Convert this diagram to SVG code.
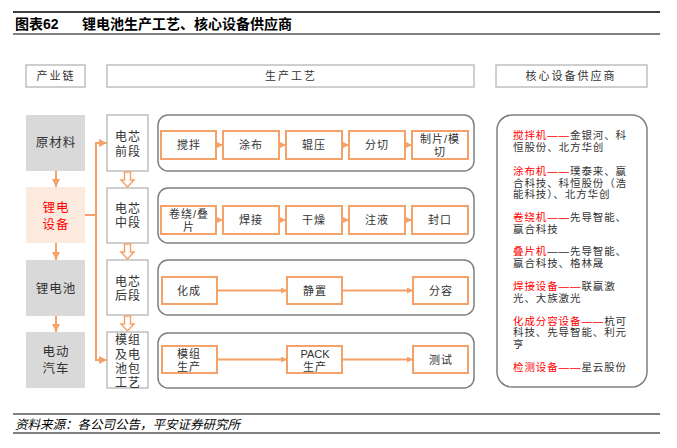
<svg xmlns="http://www.w3.org/2000/svg" width="677" height="448" viewBox="0 0 677 448">
<defs>
<marker id="ah" markerUnits="userSpaceOnUse" markerWidth="6" markerHeight="6" refX="6" refY="3" orient="auto">
<path d="M0,0 L6,3 L0,6 Z" fill="#f5a26a"/>
</marker>
<marker id="ahb" markerUnits="userSpaceOnUse" markerWidth="8" markerHeight="8" refX="8" refY="4" orient="auto">
<path d="M0,0 L8,4 L0,8 Z" fill="#f5a26a"/>
</marker>
</defs>
<style>
text{font-family:"Liberation Sans","Noto Sans CJK SC",sans-serif;fill:#333;}
.hdr{fill:#fff;stroke:#bfbfbf;stroke-width:1.5;}
.gray{fill:#d9d9d9;}
.stage{fill:#fff;stroke:#bfbfbf;stroke-width:1.5;}
.grp{fill:#fff;stroke:#808080;stroke-width:1.5;}
.proc{fill:#fff;stroke:#f5a26a;stroke-width:2;}
.c{text-anchor:middle;}
.ht{font-size:11px;letter-spacing:2px;}
.lt{font-size:12.5px;letter-spacing:1px;}
.st{font-size:12px;letter-spacing:1px;}
.pt{font-size:11px;letter-spacing:1px;}
.rt{font-size:10.5px;letter-spacing:0.9px;}
.red{fill:#ff0000;}
.con{stroke:#f5a26a;stroke-width:2;fill:none;}
.hol{stroke:#f5a26a;stroke-width:1.5;fill:#fff;}
</style>
<rect width="677" height="448" fill="#fff"/>
<line x1="13" y1="12" x2="660" y2="12" stroke="#000" stroke-width="1.5"/>
<text x="15" y="29" style="font-size:14px;font-weight:bold;fill:#000;">图表62</text>
<text x="82" y="29" style="font-size:14px;font-weight:bold;fill:#000;">锂电池生产工艺、核心设备供应商</text>
<line x1="13" y1="34" x2="660" y2="34" stroke="#000" stroke-width="1"/>

<g id="hdr-chain"><rect class="hdr" x="26" y="65" width="59" height="22"/><text class="ht c" x="56" y="80">产业链</text></g>
<g id="hdr-process"><rect class="hdr" x="107" y="65" width="367" height="22"/><text class="ht c" x="291" y="80">生产工艺</text></g>
<g id="hdr-supplier"><rect class="hdr" x="496" y="65" width="151" height="22"/><text class="ht c" x="571" y="80">核心设备供应商</text></g>

<g id="n-raw"><rect class="gray" x="26" y="115" width="59" height="56"/><text class="lt c" x="56" y="147">原材料</text></g>
<g id="n-equip"><rect fill="#fdeadf" x="26" y="187" width="59" height="56"/><text class="lt c red" x="56" y="212">锂电</text><text class="lt c red" x="56" y="229">设备</text></g>
<g id="n-battery"><rect class="gray" x="26" y="260" width="59" height="56"/><text class="lt c" x="56" y="293">锂电池</text></g>
<g id="n-ev"><rect class="gray" x="26" y="332" width="59" height="56"/><text class="lt c" x="56" y="356">电动</text><text class="lt c" x="56" y="373">汽车</text></g>

<g id="s-front"><rect class="stage" x="107" y="115" width="41" height="56"/><text class="st c" x="128" y="141">电芯</text><text class="st c" x="128" y="156">前段</text></g>
<g id="s-mid"><rect class="stage" x="107" y="188" width="41" height="55"/><text class="st c" x="128" y="213">电芯</text><text class="st c" x="128" y="227">中段</text></g>
<g id="s-back"><rect class="stage" x="107" y="260" width="41" height="55"/><text class="st c" x="128" y="286">电芯</text><text class="st c" x="128" y="300">后段</text></g>
<g id="s-pack"><rect class="stage" x="107" y="332" width="41" height="56"/><text class="st c" x="128" y="344">模组</text><text class="st c" x="128" y="358.5">及电</text><text class="st c" x="128" y="373">池包</text><text class="st c" x="128" y="387">工艺</text></g>

<g id="g-row1"><rect class="grp" x="158" y="115" width="316" height="56" rx="10"/></g>
<g id="g-row2"><rect class="grp" x="158" y="188" width="316" height="55" rx="10"/></g>
<g id="g-row3"><rect class="grp" x="158" y="260" width="316" height="55" rx="10"/></g>
<g id="g-row4"><rect class="grp" x="158" y="333" width="316" height="55" rx="10"/></g>

<g id="p-mix"><rect class="proc" x="161" y="131" width="55" height="28"/><text class="pt c" x="189" y="149">搅拌</text></g>
<g id="p-coat"><rect class="proc" x="223" y="131" width="56" height="28"/><text class="pt c" x="251" y="149">涂布</text></g>
<g id="p-roll"><rect class="proc" x="286" y="131" width="56" height="28"/><text class="pt c" x="314" y="149">辊压</text></g>
<g id="p-slit"><rect class="proc" x="349" y="131" width="56" height="28"/><text class="pt c" x="377" y="149">分切</text></g>
<g id="p-cut"><rect class="proc" x="412" y="131" width="56" height="28"/><text class="pt c" x="440" y="143">制片/模</text><text class="pt c" x="440" y="156">切</text></g>

<g id="p-wind"><rect class="proc" x="161" y="206" width="55" height="28"/><text class="pt c" x="189" y="218">卷绕/叠</text><text class="pt c" x="189" y="231">片</text></g>
<g id="p-weld"><rect class="proc" x="223" y="206" width="56" height="28"/><text class="pt c" x="251" y="224">焊接</text></g>
<g id="p-dry"><rect class="proc" x="286" y="206" width="56" height="28"/><text class="pt c" x="314" y="224">干燥</text></g>
<g id="p-fill"><rect class="proc" x="349" y="206" width="56" height="28"/><text class="pt c" x="377" y="224">注液</text></g>
<g id="p-seal"><rect class="proc" x="412" y="206" width="56" height="28"/><text class="pt c" x="440" y="224">封口</text></g>

<g id="p-form"><rect class="proc" x="162" y="277" width="55" height="27"/><text class="pt c" x="189" y="295">化成</text></g>
<g id="p-rest"><rect class="proc" x="287" y="277" width="55" height="27"/><text class="pt c" x="315" y="295">静置</text></g>
<g id="p-grade"><rect class="proc" x="413" y="277" width="55" height="27"/><text class="pt c" x="441" y="295">分容</text></g>

<g id="p-module"><rect class="proc" x="162" y="346" width="55" height="27"/><text class="pt c" x="189" y="358">模组</text><text class="pt c" x="189" y="371">生产</text></g>
<g id="p-packp"><rect class="proc" x="287" y="346" width="55" height="27"/><text class="c" x="315" y="358" style="font-size:11px;">PACK</text><text class="pt c" x="315" y="371">生产</text></g>
<g id="p-test"><rect class="proc" x="413" y="346" width="55" height="27"/><text class="pt c" x="441" y="364">测试</text></g>

<g id="supplier-panel">
<rect class="grp" x="497" y="115" width="150" height="272" rx="15"/>
<text class="rt" x="513" y="139"><tspan class="red">搅拌机——</tspan>金银河、科</text>
<text class="rt" x="513" y="150.5">恒股份、北方华创</text>
<text class="rt" x="513" y="175"><tspan class="red">涂布机——</tspan>璞泰来、赢</text>
<text class="rt" x="513" y="186.5">合科技、科恒股份（浩</text>
<text class="rt" x="513" y="198">能科技）、北方华创</text>
<text class="rt" x="513" y="221"><tspan class="red">卷绕机——</tspan>先导智能、</text>
<text class="rt" x="513" y="232.5">赢合科技</text>
<text class="rt" x="513" y="255"><tspan class="red">叠片机</tspan>——先导智能、</text>
<text class="rt" x="513" y="266.5">赢合科技、格林晟</text>
<text class="rt" x="513" y="290"><tspan class="red">焊接设备——</tspan>联赢激</text>
<text class="rt" x="513" y="301.5">光、大族激光</text>
<text class="rt" x="513" y="324.5"><tspan class="red">化成分容设备——</tspan>杭可</text>
<text class="rt" x="513" y="336">科技、先导智能、利元</text>
<text class="rt" x="513" y="347.5">亨</text>
<text class="rt" x="513" y="371"><tspan class="red">检测设备——</tspan>星云股份</text>
</g>

<g id="connectors">
<line class="con" x1="56" y1="171" x2="56" y2="187" marker-end="url(#ahb)"/>
<line class="con" x1="56" y1="243" x2="56" y2="260" marker-end="url(#ahb)"/>
<line class="con" x1="56" y1="316" x2="56" y2="332" marker-end="url(#ahb)"/>
<polyline class="con" points="85,215 96,215"/>
<line class="con" x1="96" y1="143" x2="96" y2="360"/>
<line class="con" x1="95" y1="143" x2="107" y2="143" marker-end="url(#ahb)"/>
<line class="con" x1="95" y1="360" x2="107" y2="360" marker-end="url(#ahb)"/>
<path class="hol" d="M124.5,172 L130.5,172 L130.5,180 L134,180 L127.5,187 L121,180 L124.5,180 Z"/>
<path class="hol" d="M124.5,244 L130.5,244 L130.5,252 L134,252 L127.5,259 L121,252 L124.5,252 Z"/>
<path class="hol" d="M124.5,316 L130.5,316 L130.5,324 L134,324 L127.5,331 L121,324 L124.5,324 Z"/>
<line class="con" x1="216" y1="145" x2="223" y2="145" marker-end="url(#ah)"/>
<line class="con" x1="279" y1="145" x2="286" y2="145" marker-end="url(#ah)"/>
<line class="con" x1="342" y1="145" x2="349" y2="145" marker-end="url(#ah)"/>
<line class="con" x1="405" y1="145" x2="412" y2="145" marker-end="url(#ah)"/>
<line class="con" x1="216" y1="220" x2="223" y2="220" marker-end="url(#ah)"/>
<line class="con" x1="279" y1="220" x2="286" y2="220" marker-end="url(#ah)"/>
<line class="con" x1="342" y1="220" x2="349" y2="220" marker-end="url(#ah)"/>
<line class="con" x1="405" y1="220" x2="412" y2="220" marker-end="url(#ah)"/>
<line class="con" x1="217" y1="290.5" x2="287" y2="290.5" marker-end="url(#ah)"/>
<line class="con" x1="342" y1="290.5" x2="413" y2="290.5" marker-end="url(#ah)"/>
<line class="con" x1="217" y1="359.5" x2="287" y2="359.5" marker-end="url(#ah)"/>
<line class="con" x1="342" y1="359.5" x2="413" y2="359.5" marker-end="url(#ah)"/>
</g>

<line x1="13" y1="414" x2="660" y2="414" stroke="#000" stroke-width="1"/>
<text x="15" y="429" style="font-size:12.5px;font-style:italic;fill:#000;">资料来源：各公司公告，平安证券研究所</text>
<line x1="13" y1="433" x2="660" y2="433" stroke="#000" stroke-width="1"/>
</svg>
